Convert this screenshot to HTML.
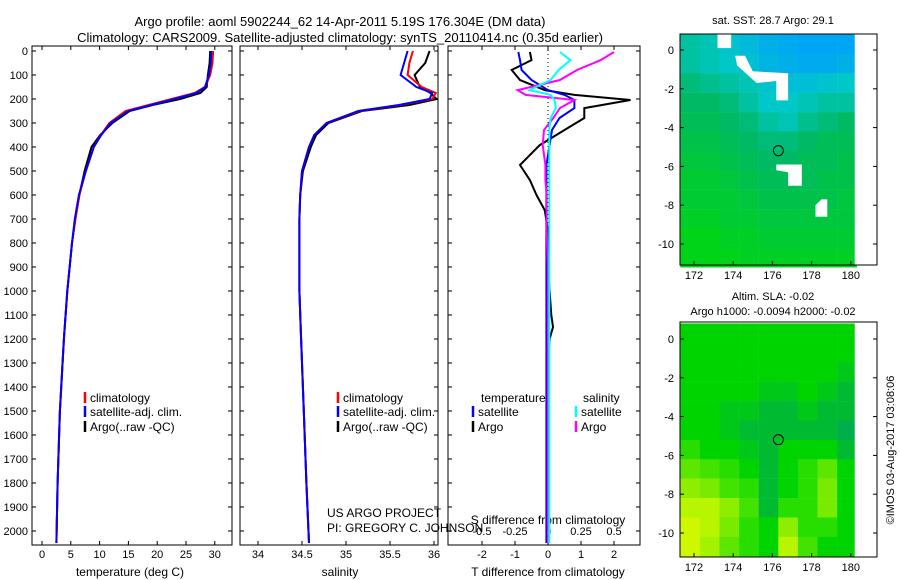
<!DOCTYPE html>
<html><head><meta charset="utf-8">
<style>
html,body{margin:0;padding:0;background:#fff;}
svg{display:block;font-family:"Liberation Sans",sans-serif;}
</style></head>
<body>
<svg id="fig" width="900" height="580" viewBox="0 0 900 580" xmlns="http://www.w3.org/2000/svg">
<rect width="900" height="580" fill="#fff"/>
<text x="340" y="26" font-size="13" text-anchor="middle">Argo profile: aoml 5902244_62 14-Apr-2011 5.19S 176.304E (DM data)</text>
<text x="340" y="42" font-size="13" text-anchor="middle">Climatology: CARS2009. Satellite-adjusted climatology: synTS_20110414.nc (0.35d earlier)</text>
<g id="g"></g>
<text x="773" y="24" font-size="11" text-anchor="middle">sat. SST: 28.7 Argo: 29.1</text>
<text x="773" y="300" font-size="11" text-anchor="middle">Altim. SLA: -0.02</text>
<text x="773" y="315" font-size="11" text-anchor="middle">Argo h1000: -0.0094 h2000: -0.02</text>
<text transform="translate(894,450) rotate(-90)" font-size="11" text-anchor="middle">©IMOS 03-Aug-2017 03:08:06</text>
</svg>
<script>
// ---------- data ----------
const climDepth = [0,50,100,150,175,200,225,250,300,350,400,500,600,700,800,1000,1200,1500,1800,2050];
const climTemp  = [29.7,29.6,29.2,28.3,26.5,22.5,18.5,14.5,11.7,10.2,9.0,7.6,6.5,5.8,5.2,4.4,3.8,3.1,2.7,2.5];
const satTemp   = [29.4,29.3,29.0,28.3,26.8,23.0,19.0,15.0,11.9,10.3,9.0,7.6,6.4,5.7,5.2,4.4,3.8,3.1,2.7,2.5];
const argoTemp  = [29.2,29.1,28.8,28.6,27.5,24.0,19.2,15.2,12.2,10.1,8.6,7.4,6.5,5.8,5.2,4.4,3.8,3.1,2.7,2.5];
const climSal   = [35.76,35.72,35.70,35.86,36.02,35.98,35.62,35.15,34.78,34.64,34.58,34.50,34.48,34.47,34.47,34.47,34.49,34.52,34.55,34.58];
const satSal    = [35.70,35.66,35.62,35.80,35.98,35.95,35.60,35.14,34.78,34.64,34.58,34.50,34.48,34.47,34.47,34.47,34.49,34.52,34.55,34.58];
const argoSal   = [35.95,35.90,35.78,35.84,35.96,36.03,35.72,35.18,34.80,34.66,34.60,34.51,34.48,34.47,34.47,34.47,34.49,34.52,34.55,34.58];
const diffDepth = [4,38,79,121,163,183,204,238,279,329,392,475,538,600,663,746,900,1000,1100,1150,1200,1300,1500,2050];
const argoTdiff = [-0.55,-0.5,-1.1,-0.85,-0.1,0.8,2.5,1.1,1.1,0.5,-0.25,-0.85,-0.55,-0.35,-0.1,0,0,0.05,0.1,0.15,0.05,0,0,0];
const satTdiff  = [-0.9,-0.85,-0.8,-0.5,0,0.5,0.8,0.8,0.35,0.12,0.05,-0.05,-0.05,-0.05,-0.05,-0.05,-0.05,-0.05,-0.05,-0.05,-0.05,-0.05,-0.05,-0.05];
const argoSdiff = [0.5,0.4,0.22,0.09,-0.23,-0.17,0.2,0.09,0.04,-0.03,-0.04,-0.02,-0.02,-0.01,-0.01,-0.01,0,0,0,0,0,0,0,0];
const satSdiff  = [0.09,0.17,0.08,0.02,-0.14,0.02,0.05,0.06,0.02,0.01,0.01,0.01,0.01,0.01,0.01,0.01,0.01,0.01,0.01,0.01,0.01,0.01,0.01,0.01];
const sstGrid = [
 [29.0,28.9,28.7,28.5,28.3,28.2,28.1,28.1,28.1],
 [29.0,28.9,28.8,28.6,28.4,28.3,28.2,28.2,28.3],
 [29.2,29.1,29.0,28.9,28.7,28.6,28.6,28.7,28.8],
 [29.3,29.3,29.2,29.0,28.8,28.8,28.9,29.0,29.0],
 [29.4,29.4,29.3,29.2,29.0,28.9,29.1,29.2,29.3],
 [29.5,29.5,29.4,29.3,29.2,29.2,29.3,29.4,29.4],
 [29.6,29.6,29.5,29.4,29.3,29.3,29.4,29.4,29.5],
 [29.7,29.7,29.6,29.5,29.4,29.4,29.4,29.5,29.5],
 [29.7,29.7,29.7,29.6,29.5,29.5,29.5,29.5,29.6],
 [29.8,29.8,29.7,29.7,29.6,29.6,29.6,29.6,29.6],
 [29.9,29.9,29.8,29.8,29.7,29.7,29.7,29.7,29.7],
 [29.9,29.9,29.9,29.8,29.8,29.8,29.8,29.8,29.8]];
const slaGrid = [
 [-0.02,-0.02,-0.02,-0.02,-0.02,-0.02,-0.02,-0.02,-0.02],
 [-0.02,-0.02,-0.02,-0.02,-0.02,-0.02,-0.02,-0.02,-0.02],
 [-0.02,-0.02,-0.02,-0.02,-0.02,-0.02,-0.02,-0.02,-0.025],
 [-0.02,-0.02,-0.02,-0.02,-0.025,-0.025,-0.02,-0.025,-0.03],
 [-0.02,-0.02,-0.025,-0.025,-0.03,-0.03,-0.025,-0.03,-0.03],
 [-0.02,-0.02,-0.025,-0.03,-0.03,-0.03,-0.03,-0.03,-0.035],
 [-0.01,-0.02,-0.02,-0.025,-0.03,-0.02,-0.02,-0.02,-0.03],
 [0.01,0.0,-0.01,-0.02,-0.03,-0.02,-0.01,0.01,-0.02],
 [0.03,0.02,0.0,-0.01,-0.03,-0.02,-0.01,0.02,-0.02],
 [0.05,0.05,0.03,0.0,-0.03,-0.01,-0.01,0.02,-0.02],
 [0.06,0.05,0.02,-0.01,-0.02,0.03,-0.01,-0.01,-0.02],
 [0.07,0.04,0.01,-0.01,-0.02,0.05,0.0,-0.02,-0.02]];
const depthTicks = [0,100,200,300,400,500,600,700,800,900,1000,1100,1200,1300,1400,1500,1600,1700,1800,1900,2000];
const tempTicks = [0,5,10,15,20,25,30];
const salTicks = [34,34.5,35,35.5,36];
const salTickLabels = ["34","34.5","35","35.5","36"];
const tdTicks = [-2,-1,0,1,2];
const sdTicks = [-0.5,-0.25,0,0.25,0.5];
const sdTickLabels = ["-0.5","-0.25","0","0.25","0.5"];
const lonTicks = [172,174,176,178,180];
const latTicks = [0,-2,-4,-6,-8,-10];

// ---------- helpers ----------
const NS="http://www.w3.org/2000/svg";
const G=document.getElementById('g');
function mk(tag,attrs,parent){const e=document.createElementNS(NS,tag);for(const k in attrs)e.setAttribute(k,attrs[k]);(parent||G).appendChild(e);return e;}
function txt(x,y,s,size,anchor,name){const t=mk('text',{x:x,y:y,'font-size':size,'text-anchor':anchor||'start'});t.textContent=s;


return t;}
const yD = d => 51 + d*0.24;
const xT = v => 42 + v*5.76;
const xS = v => 302 + (v-34.5)*88;
const xTd = v => 548 + v*33;
const xSd = v => 548 + v*132;
function line(xs,ds,fx,color,name){
 const pts=xs.map((v,i)=>fx(v).toFixed(1)+','+yD(ds[i]).toFixed(1)).join(' ');
 const p=mk('polyline',{points:pts,fill:'none',stroke:color,'stroke-width':2});
 
 
}
function frame(x0,x1,name){
 const r=mk('rect',{x:x0,y:46,width:x1-x0,height:499,fill:'none',stroke:'#000','stroke-width':1});
 
 
 depthTicks.forEach(d=>{mk('line',{x1:x0,x2:x0+4,y1:yD(d),y2:yD(d),stroke:'#000'});mk('line',{x1:x1-4,x2:x1,y1:yD(d),y2:yD(d),stroke:'#000'});});
}
// ---------- panel 1 ----------
frame(32,232,'temperature-panel');
depthTicks.forEach(d=>txt(28,yD(d)+4,String(d),11,'end','depth-tick-label'));
tempTicks.forEach(v=>{mk('line',{x1:xT(v),x2:xT(v),y1:545,y2:541,stroke:'#000'});mk('line',{x1:xT(v),x2:xT(v),y1:46,y2:50,stroke:'#000'});txt(xT(v),558,String(v),11,'middle','temp-tick-label');});
txt(130,576,'temperature (deg C)',12,'middle','temp-axis-title');
line(argoTemp,climDepth,xT,'#000','argo-temp-line');
line(climTemp,climDepth,xT,'#f00','clim-temp-line');
line(satTemp,climDepth,xT,'#00f','sat-temp-line');
// ---------- panel 2 ----------
frame(240,438,'salinity-panel');
salTicks.forEach((v,i)=>{mk('line',{x1:xS(v),x2:xS(v),y1:545,y2:541,stroke:'#000'});mk('line',{x1:xS(v),x2:xS(v),y1:46,y2:50,stroke:'#000'});txt(xS(v),558,salTickLabels[i],11,'middle','sal-tick-label');});
txt(340,576,'salinity',12,'middle','sal-axis-title');
line(argoSal,climDepth,xS,'#000','argo-sal-line');
line(climSal,climDepth,xS,'#f00','clim-sal-line');
line(satSal,climDepth,xS,'#00f','sat-sal-line');
// ---------- panel 3 ----------
frame(448,640,'difference-panel');
mk('line',{x1:548,x2:548,y1:46,y2:545,stroke:'#000','stroke-dasharray':'1,3'});
tdTicks.forEach(v=>{mk('line',{x1:xTd(v),x2:xTd(v),y1:545,y2:541,stroke:'#000'});txt(xTd(v),558,String(v),11,'middle','tdiff-tick-label');});
sdTicks.forEach((v,i)=>{mk('line',{x1:xSd(v),x2:xSd(v),y1:46,y2:50,stroke:'#000'});txt(xSd(v),535,sdTickLabels[i],11,'middle','sdiff-tick-label');});
txt(548,524,'S difference from climatology',12,'middle','sdiff-axis-title');
txt(548,576,'T difference from climatology',12,'middle','tdiff-axis-title');
line(argoTdiff,diffDepth,xTd,'#000','argo-tdiff-line');
line(satTdiff,diffDepth,xTd,'#00f','sat-tdiff-line');
line(argoSdiff,diffDepth,xSd,'#f0f','argo-sdiff-line');
line(satSdiff,diffDepth,xSd,'#0ff','sat-sdiff-line');
// ---------- legends ----------
function leg(x,y,color,label,name){mk('line',{x1:x,x2:x,y1:y-10,y2:y+1,stroke:color,'stroke-width':2.5});txt(x+5,y,label,12,'start',name);}
leg(85,402,'#f00','climatology','legend-climatology');
leg(85,416,'#00f','satellite-adj. clim.','legend-satellite-adj');
leg(85,431,'#000','Argo(..raw -QC)','legend-argo');
leg(338,402,'#f00','climatology','legend-climatology-2');
leg(338,416,'#00f','satellite-adj. clim.','legend-satellite-adj-2');
leg(338,431,'#000','Argo(..raw -QC)','legend-argo-2');
txt(481,402,'temperature',12,'start','legend-temperature-header');
txt(583,402,'salinity',12,'start','legend-salinity-header');
leg(473,416,'#00f','satellite','legend-t-satellite');
leg(473,431,'#000','Argo','legend-t-argo');
leg(576,416,'#0ff','satellite','legend-s-satellite');
leg(576,431,'#f0f','Argo','legend-s-argo');
txt(327,517,'US ARGO PROJECT',12,'start','project-label');
txt(327,532,'PI: GREGORY C. JOHNSON',12,'start','pi-label');
// ---------- maps ----------
function ramp(s,t){
 if(t<=s[0][0])return `rgb(${s[0][1]},${s[0][2]},${s[0][3]})`;
 for(let i=1;i<s.length;i++){if(t<=s[i][0]){const f=(t-s[i-1][0])/(s[i][0]-s[i-1][0]);const c=[1,2,3].map(k=>Math.round(s[i-1][k]+f*(s[i][k]-s[i-1][k])));return `rgb(${c})`;}}
 const l=s[s.length-1];return `rgb(${l[1]},${l[2]},${l[3]})`;}
const sstStops=[[28.1,0,165,245],[28.8,0,200,200],[29.3,0,185,100],[29.9,0,212,25]];
const slaStops=[[-0.035,0,175,75],[-0.02,0,212,0],[-0.01,40,222,0],[0.02,120,235,0],[0.06,205,248,0]];
function sstColor(t){return ramp(sstStops,t);}
function slaColor(v){return ramp(slaStops,v);}
function map(y0,y1,grid,colf,latZeroY,name){
 const lx=l=>694+(l-172)*19.6, ly=v=>latZeroY-v*19.4;
 grid.forEach((row,r)=>row.forEach((v,c)=>{
  const lon=171.3+c, lat=0.8-r;
  const cell=mk('rect',{x:lx(lon),y:ly(lat),width:19.8,height:19.6,fill:colf(v)});
  
  
 }));
 mk('rect',{x:lx(180.2),y:y0,width:877-lx(180.2),height:y1-y0,fill:'#fff'});
 const f=mk('rect',{x:680,y:y0,width:197,height:y1-y0,fill:'none',stroke:'#000'});
 
 
 lonTicks.forEach(l=>{mk('line',{x1:lx(l),x2:lx(l),y1:y1,y2:y1-4,stroke:'#000'});txt(lx(l),y1+14,String(l),11,'middle',name+'-lon-label');});
 latTicks.forEach(v=>{mk('line',{x1:680,x2:684,y1:ly(v),y2:ly(v),stroke:'#000'});mk('line',{x1:873,x2:877,y1:ly(v),y2:ly(v),stroke:'#000'});txt(674,ly(v)+4,String(v),11,'end',name+'-lat-label');});
 const c=mk('circle',{cx:lx(176.304),cy:ly(-5.19),r:5,fill:'none',stroke:'#000'});
 
 
 return {lx,ly};
}
const m1=map(34,265,sstGrid,sstColor,50,'sst-map');
[[[173.2,0.8],[173.9,0.8],[173.9,0.1],[173.2,0.1]],[[174.1,-0.3],[174.6,-0.3],[175.0,-1.1],[176.8,-1.2],[176.8,-2.6],[176.2,-2.6],[176.2,-1.6],[175.2,-1.7],[174.2,-0.8]],
 [[176.2,-5.9],[177.5,-5.9],[177.5,-7.0],[176.8,-7.0],[176.8,-6.3],[176.2,-6.2]],[[178.5,-7.7],[178.8,-7.7],[178.8,-8.6],[178.2,-8.6],[178.2,-8.0]]].forEach(poly=>{
 const p=mk('polygon',{points:poly.map(q=>m1.lx(q[0]).toFixed(1)+','+m1.ly(q[1]).toFixed(1)).join(' '),fill:'#fff'});
 
 
});
map(322,557,slaGrid,slaColor,339,'sla-map');
</script>
</body></html>
